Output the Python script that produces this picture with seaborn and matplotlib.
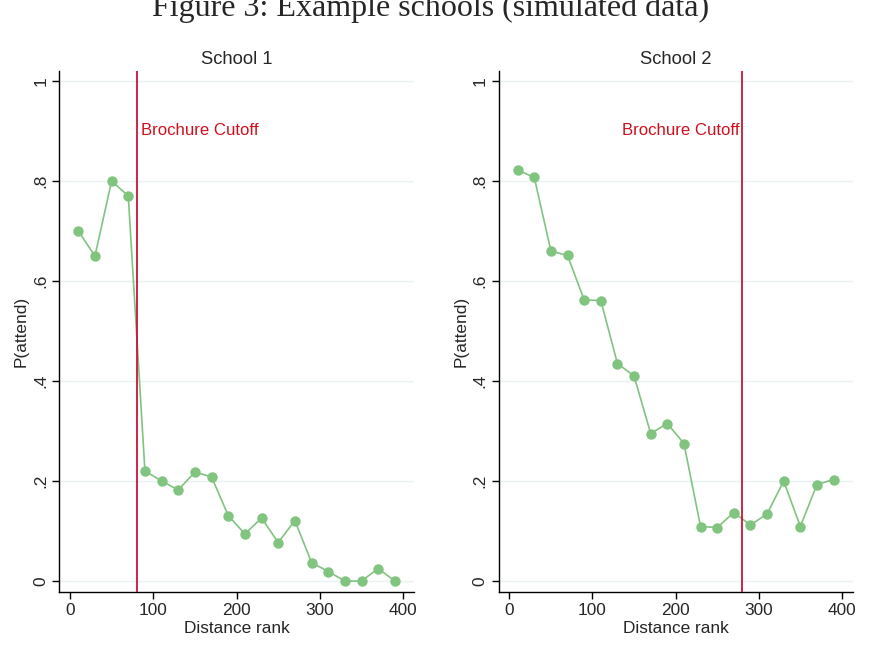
import matplotlib
matplotlib.use("Agg")
import matplotlib.pyplot as plt
import seaborn as sns
import pandas as pd

distance_rank = [10, 30, 50, 70, 90, 110, 130, 150, 170, 190,
                 210, 230, 250, 270, 290, 310, 330, 350, 370, 390]
school1 = [0.70, 0.65, 0.80, 0.77, 0.22, 0.20, 0.182, 0.218, 0.208, 0.131,
           0.094, 0.126, 0.077, 0.121, 0.037, 0.019, 0.0, 0.0, 0.025, 0.0]
school2 = [0.822, 0.807, 0.66, 0.651, 0.562, 0.561, 0.435, 0.41, 0.295, 0.315,
           0.275, 0.109, 0.107, 0.137, 0.112, 0.134, 0.20, 0.109, 0.193, 0.203]
cutoffs = [80, 280]
panel_titles = ["School 1", "School 2"]
yticks = [0, 0.2, 0.4, 0.6, 0.8, 1.0]
ytick_labels = ["0", ".2", ".4", ".6", ".8", "1"]
xticks = [0, 100, 200, 300, 400]
xtick_labels = ["0", "100", "200", "300", "400"]
fig_title = "Figure 3: Example schools (simulated data)"
cutoff_label = "Brochure Cutoff"

sns.set_style("white")
plt.rcParams['font.family'] = ['Liberation Sans', 'DejaVu Sans']

GREEN = "#80c480"
RED = "#cc1238"
GRID = "#eaf1f2"

fig = plt.figure(figsize=(8.76, 6.66), dpi=100)
axes = [fig.add_axes([0.0677, 0.1111, 0.4049, 0.7823]),
        fig.add_axes([0.5693, 0.1111, 0.4041, 0.7823])]

series = [school1, school2]
for i, ax in enumerate(axes):
    df = pd.DataFrame({"Distance rank": distance_rank, "P(attend)": series[i]})
    ax.set_ylim(-0.022, 1.02)
    ax.set_xlim(-12.8, 413)
    for yv in yticks:
        ax.axhline(yv, color=GRID, lw=1.0, zorder=0)
    sns.lineplot(data=df, x="Distance rank", y="P(attend)", ax=ax,
                 color=GREEN, marker="o", markersize=7.5, markeredgewidth=0,
                 linewidth=1.2, zorder=3)
    ax.axvline(cutoffs[i], color=RED, lw=1.3, zorder=4)
    if i == 0:
        ax.annotate(cutoff_label, xy=(cutoffs[i], 0.90), xytext=(3.5, 0),
                    textcoords="offset points", ha="left", va="center",
                    color="#d0101e", fontsize=12.1)
    else:
        ax.annotate(cutoff_label, xy=(cutoffs[i], 0.90), xytext=(-1.5, 0),
                    textcoords="offset points", ha="right", va="center",
                    color="#d0101e", fontsize=12.1)
    ax.set_yticks(yticks)
    ax.set_yticklabels(ytick_labels, rotation=90, va="center", fontsize=12.4)
    ax.set_xticks(xticks)
    ax.set_xticklabels(xtick_labels, fontsize=12.4)
    ax.tick_params(axis="both", direction="out", length=5, width=1,
                   color="black", left=True, bottom=True, pad=3)
    for s in ["top", "right"]:
        ax.spines[s].set_visible(False)
    for s in ["left", "bottom"]:
        ax.spines[s].set_color("black")
        ax.spines[s].set_linewidth(1.0)
    ax.set_xlabel("Distance rank", fontsize=12.4, labelpad=2)
    ax.set_ylabel("P(attend)", fontsize=12.4, labelpad=3)
    ax.set_title(panel_titles[i], fontsize=13.2, pad=5)

fig.text(0.492, 1 - 16 / 666, fig_title, ha="center", va="baseline",
         fontsize=23, family=["Liberation Serif", "DejaVu Serif"])

fig.savefig("out.png", dpi=100, facecolor="white")
